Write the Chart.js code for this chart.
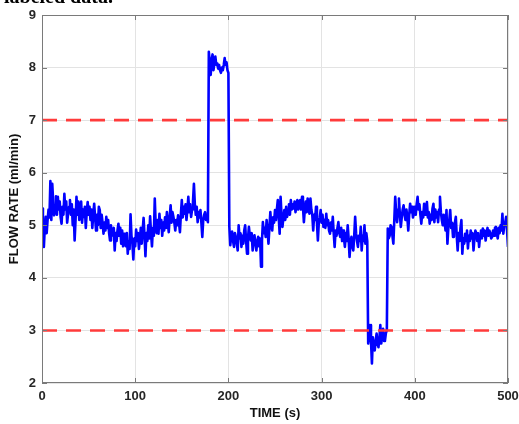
<!DOCTYPE html>
<html>
<head>
<meta charset="utf-8">
<script src="https://cdn.jsdelivr.net/npm/chart.js@4"></script>
<style>
  body { margin: 0; background: #fff; }
  #wrap { position: relative; width: 519px; height: 424px; overflow: hidden; }
  #cap { position: absolute; left: 4px; top: -15px; font: bold 20px "Liberation Serif", "DejaVu Serif", serif; color: #000; }
</style>
</head>
<body>
<div id="wrap">
  <div id="cap">labeled data.</div>
  <canvas id="flow" width="519" height="424"></canvas>
</div>
<script>
// flow rate (ml/min), one sample per second from 0 s to 500 s
const sampleStepS = 1;
const flowRate = [
  5.32, 5.05, 4.59, 4.95, 5.16, 4.85, 5.10, 5.30, 5.15, 5.84, // 0
  5.10, 5.79, 5.45, 5.19, 5.35, 5.55, 5.20, 5.54, 5.30, 5.45,
  5.15, 5.03, 5.35, 5.20, 5.60, 5.30, 5.45, 5.05, 5.22, 5.35,
  5.48, 5.20, 5.40, 5.00, 5.30, 4.71, 5.10, 5.54, 5.20, 5.45,
  5.10, 5.32, 5.45, 5.05, 5.30, 5.16, 5.35, 4.95, 5.25, 5.44,
  5.20, 5.35, 5.10, 5.30, 4.95, 5.20, 5.41, 5.15, 4.90, 5.20, // 50
  5.00, 5.35, 5.29, 4.95, 5.20, 5.05, 4.84, 5.05, 4.90, 5.16,
  4.95, 5.10, 4.85, 4.71, 5.00, 4.80, 4.90, 4.95, 4.52, 4.85,
  4.70, 4.90, 5.03, 4.80, 4.95, 4.65, 4.90, 4.60, 4.84, 4.75,
  4.60, 4.85, 4.46, 4.70, 4.55, 5.21, 4.80, 4.65, 4.35, 4.75,
  4.60, 4.92, 4.70, 4.85, 4.55, 4.73, 4.95, 4.65, 4.90, 5.14, // 100
  4.80, 4.41, 4.85, 4.70, 5.00, 4.75, 5.17, 4.85, 4.60, 4.95,
  4.80, 5.51, 5.00, 4.85, 5.10, 4.84, 5.22, 4.95, 5.10, 4.80,
  5.05, 4.90, 5.15, 4.95, 5.25, 5.05, 4.87, 5.15, 5.38, 5.05,
  5.25, 5.16, 5.05, 4.90, 5.10, 5.00, 5.19, 5.05, 4.87, 5.20,
  5.48, 5.15, 5.35, 5.22, 5.40, 5.10, 5.30, 5.54, 5.25, 5.40, // 150
  5.16, 5.30, 5.45, 5.79, 5.40, 5.20, 5.35, 5.06, 5.25, 5.15,
  5.29, 5.05, 4.78, 5.10, 5.20, 5.25, 5.10, 5.20, 5.06, 8.30,
  8.10, 7.86, 8.15, 8.25, 7.95, 8.10, 8.21, 8.05, 8.08, 7.98,
  8.05, 7.95, 7.90, 8.00, 7.95, 8.05, 8.18, 8.05, 8.10, 7.95,
  7.90, 4.97, 4.62, 4.80, 4.88, 4.70, 4.59, 4.85, 4.78, 4.65, // 200
  4.52, 5.00, 4.75, 4.85, 4.59, 4.80, 4.65, 4.90, 5.00, 4.70,
  4.46, 4.75, 4.97, 4.80, 4.71, 4.85, 4.52, 4.70, 4.81, 4.65,
  4.52, 4.70, 4.78, 4.60, 4.75, 4.21, 4.70, 5.06, 4.85, 4.95,
  4.78, 5.10, 4.90, 4.65, 4.95, 5.25, 5.00, 4.90, 5.15, 5.05,
  5.29, 5.10, 5.30, 5.48, 5.15, 4.84, 5.54, 5.20, 4.97, 5.15, // 250
  5.29, 5.10, 5.35, 5.16, 5.30, 5.40, 5.20, 5.48, 5.30, 5.40,
  5.32, 5.45, 5.25, 5.40, 5.48, 5.30, 5.45, 5.48, 5.30, 5.54,
  5.35, 5.06, 5.30, 5.45, 5.25, 5.51, 5.35, 5.22, 5.51, 5.30,
  5.20, 4.90, 5.20, 5.10, 5.35, 5.05, 4.71, 5.05, 5.15, 5.29,
  5.05, 5.20, 4.97, 5.10, 4.95, 5.22, 5.00, 5.10, 4.90, 4.84, // 300
  5.05, 4.90, 5.16, 4.85, 4.59, 4.90, 4.80, 4.95, 5.06, 4.85,
  4.78, 4.95, 4.70, 4.90, 4.75, 4.59, 4.85, 4.70, 5.00, 4.75,
  4.40, 4.65, 4.78, 4.60, 4.52, 4.80, 5.16, 4.85, 4.70, 4.59,
  4.80, 4.70, 4.97, 4.52, 4.80, 4.70, 5.00, 4.65, 4.85, 4.70,
  2.75, 2.95, 3.10, 2.80, 2.37, 2.87, 2.70, 2.62, 2.80, 2.94, // 350
  2.75, 2.68, 2.85, 3.10, 2.75, 2.90, 3.03, 2.80, 2.81, 2.95,
  3.00, 4.94, 4.75, 4.80, 5.00, 4.97, 4.80, 4.65, 5.10, 5.54,
  5.25, 5.06, 5.30, 5.51, 5.20, 4.97, 5.15, 5.30, 5.38, 5.20,
  5.10, 5.30, 5.15, 4.90, 5.20, 5.41, 5.25, 5.35, 5.15, 5.22,
  5.35, 5.20, 5.40, 5.54, 5.30, 5.40, 5.20, 5.03, 5.25, 5.15, // 400
  5.41, 5.20, 5.30, 5.44, 5.15, 5.25, 5.03, 5.20, 5.10, 5.32,
  5.41, 5.06, 5.30, 5.15, 5.25, 5.06, 5.30, 5.54, 5.25, 5.10,
  5.00, 5.20, 5.05, 4.90, 5.29, 4.65, 4.95, 5.10, 5.29, 4.95,
  5.05, 4.78, 4.95, 5.05, 5.16, 4.80, 4.52, 4.85, 4.70, 4.95,
  5.10, 4.46, 4.75, 4.65, 4.84, 4.70, 4.90, 4.56, 4.80, 4.70, // 450
  4.90, 4.75, 4.85, 4.52, 4.75, 4.90, 4.84, 4.70, 4.85, 4.59,
  4.80, 4.90, 4.75, 4.94, 4.80, 4.90, 4.71, 4.85, 4.95, 4.80,
  4.90, 4.85, 4.75, 4.78, 4.90, 4.80, 4.95, 4.97, 4.85, 4.75,
  4.95, 4.85, 5.00, 4.90, 5.22, 4.84, 5.00, 5.05, 5.16, 4.90,
  4.59 // 500
];
const timeS = flowRate.map((_, i) => i * sampleStepS);
const limits = [7, 3];
const xTicks = [0, 100, 200, 300, 400, 500];
const yTicks = [2, 3, 4, 5, 6, 7, 8, 9];

const axisFont = { family: "Arial, 'Liberation Sans', sans-serif", size: 13, weight: "bold" };

// MATLAB-like box with inward tick marks
const boxPlugin = {
  id: "box",
  afterDatasetsDraw(chart) {
    const { ctx, chartArea: a, scales } = chart;
    ctx.save();
    ctx.strokeStyle = "#7a7a7a";
    ctx.lineWidth = 1;
    ctx.strokeRect(a.left + 0.5, a.top + 0.5, a.right - a.left - 1, a.bottom - a.top - 1);
    ctx.beginPath();
    xTicks.forEach(function (v) {
      const px = Math.round(scales.x.getPixelForValue(v)) + 0.5;
      ctx.moveTo(px, a.bottom); ctx.lineTo(px, a.bottom - 5);
      ctx.moveTo(px, a.top); ctx.lineTo(px, a.top + 5);
    });
    yTicks.forEach(function (v) {
      const py = Math.round(scales.y.getPixelForValue(v)) + 0.5;
      ctx.moveTo(a.left, py); ctx.lineTo(a.left + 5, py);
      ctx.moveTo(a.right, py); ctx.lineTo(a.right - 5, py);
    });
    ctx.stroke();
    ctx.restore();
  },
};

const ctx = document.getElementById("flow").getContext("2d");
const flowChart = new Chart(ctx, {
  type: "line",
  data: {
    datasets: [
      {
        label: "Flow rate",
        data: timeS.map((t, i) => ({ x: t, y: flowRate[i] })),
        borderColor: "#0000ff",
        borderWidth: 2.6,
        borderJoinStyle: "round",
        pointRadius: 0,
        tension: 0,
        order: 2,
      },
      ...limits.map((v) => ({
        label: "Limit " + v,
        data: [{ x: xTicks[0], y: v }, { x: xTicks[xTicks.length - 1], y: v }],
        borderColor: "#ff3b3b",
        borderWidth: 2.6,
        borderDash: [15, 9],
        pointRadius: 0,
        order: 1,
      })),
    ],
  },
  options: {
    responsive: false,
    animation: false,
    layout: { padding: { top: 15, right: 11, left: 0, bottom: 0 } },
    plugins: { legend: { display: false }, tooltip: { enabled: false } },
    scales: {
      x: {
        type: "linear",
        min: 0,
        max: 500,
        afterFit: (s) => { s.height = 41; s.paddingLeft = 0; s.paddingRight = 0; },
        afterBuildTicks: (s) => { s.ticks = xTicks.map((v) => ({ value: v })); },
        grid: { color: "#e3e3e3", drawTicks: false },
        border: { display: false },
        ticks: { font: axisFont, color: "#262626", padding: 6 },
        title: { display: true, text: "TIME (s)", font: axisFont, color: "#111", padding: { top: 0, bottom: 3 } },
      },
      y: {
        min: 2,
        max: 9,
        afterFit: (s) => { s.width = 42; },
        afterBuildTicks: (s) => { s.ticks = yTicks.map((v) => ({ value: v })); },
        grid: { color: "#e3e3e3", drawTicks: false },
        border: { display: false },
        ticks: { font: axisFont, color: "#262626", padding: 6 },
        title: { display: true, text: "FLOW RATE (ml/min)", font: axisFont, color: "#111", padding: { top: 7, bottom: 0 } },
      },
    },
  },
  plugins: [boxPlugin],
});
</script>
</body>
</html>
